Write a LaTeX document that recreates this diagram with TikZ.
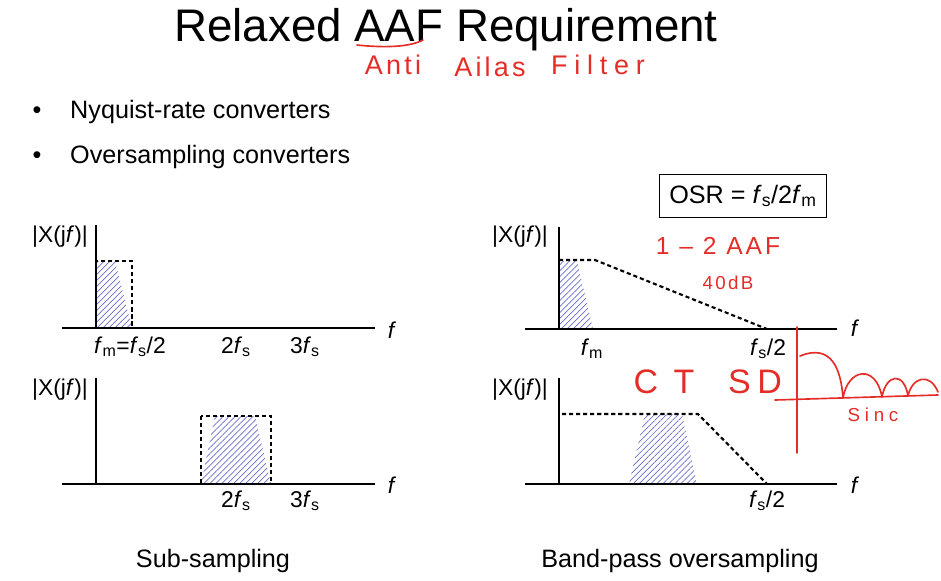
\documentclass[tikz,border=0pt]{standalone}
\usepackage{fontspec}
\setmainfont{Liberation Sans}
\newfontfamily\hand[LetterSpace=12]{Liberation Sans}
\usepackage{xcolor}
\usepackage{tikz}
\usetikzlibrary{patterns.meta}

\definecolor{hatchblue}{RGB}{105,110,205}
\definecolor{inkred}{RGB}{228,45,38}
\newcommand{\fsamp}{\textit{f}\textsubscript{s}}
\newcommand{\fmax}{\textit{f}\textsubscript{m}}

\begin{document}
\begin{tikzpicture}[
  x=0.03cm, y=-0.03cm,
  every node/.style={font=\fontsize{21.5}{24}\selectfont, inner sep=0pt},
  axis/.style    ={line width=1.6pt},
  filt/.style    ={line width=1.8pt, dash pattern=on 3.5pt off 2.5pt},
  band/.style    ={pattern={Lines[angle=45,distance=3.6pt,line width=0.6pt]},
                   pattern color=hatchblue},
  tick/.style    ={anchor=base, font=\fontsize{19.5}{22}\selectfont},
  mag/.style     ={font=\fontsize{19.5}{22}\selectfont},
  ink/.style     ={inkred, line width=1.4pt, line cap=round, line join=round},
  inktext/.style ={text=inkred, anchor=base, font=\hand\fontsize{20}{22}\selectfont},
]
  \useasboundingbox (0,0) rectangle (941,580);

  % title and notes
  \node[anchor=base, font=\fontsize{39}{42}\selectfont] (title) at (446,41) {Relaxed AAF Requirement};
  \draw[ink] (357,45) .. controls (385,48) and (410,47) .. (423,40);
  \node[inktext, font=\hand\fontsize{23}{26}\selectfont] (anti)   at (393,74) {Anti};
  \node[inktext, font=\hand\fontsize{23}{26}\selectfont] (ailas)  at (490,76) {Ailas};
  \node[inktext, font=\hand\addfontfeature{LetterSpace=25}\fontsize{23}{26}\selectfont] (filter) at (598,74) {Filter};

  \node[anchor=base]      (dot1) at (37,118) {•};
  \node[anchor=base west] (nyq)  at (70,118) {Nyquist-rate converters};
  \node[anchor=base]      (dot2) at (37,163) {•};
  \node[anchor=base west] (ovs)  at (70,163) {Oversampling converters};

  \node[draw, line width=1.1pt, minimum width=5.01cm, minimum height=1.29cm] (osr) at (743,196) {OSR = \fsamp/2\fmax};

  % Nyquist-rate
  \fill[band] (97,261) -- (115,261) -- (132,328) -- (97,328) -- cycle;
  \draw[filt] (96,261) rectangle (132,328);
  \draw[axis] (62,328) -- (375,328);
  \draw[axis] (96,225) -- (96,328);
  \node[mag]  (magA)   at (60,237)  {|X(j\textit{f})|};
  \node[tick] (fmA)    at (130,353) {\fmax=\fsamp/2};
  \node[tick] (twoA)   at (236,353) {2\fsamp};
  \node[tick] (threeA) at (305,353) {3\fsamp};
  \node[mag]  (fA)     at (392,330) {\textit{f}};

  % sub-sampling
  \fill[band] (215,416) -- (255,416) -- (271,484) -- (201,484) -- cycle;
  \draw[filt] (201,416) rectangle (271,484);
  \draw[axis] (62,484) -- (375,484);
  \draw[axis] (96,378) -- (96,484);
  \node[mag]  (magB)   at (60,390)  {|X(j\textit{f})|};
  \node[tick] (twoB)   at (236,507) {2\fsamp};
  \node[tick] (threeB) at (305,507) {3\fsamp};
  \node[mag]  (fB)     at (392,485) {\textit{f}};
  \node[anchor=base] (sub) at (213,567) {Sub-sampling};

  % oversampling
  \fill[band] (559,261) -- (577,261) -- (593,329) -- (559,329) -- cycle;
  \draw[filt] (559,260) -- (595,260) -- (767,329);
  \draw[axis] (525,329) -- (837,329);
  \draw[axis] (559,227) -- (559,329);
  \node[mag]  (magC) at (520,237) {|X(j\textit{f})|};
  \node[tick] (fmC)  at (592,355) {\fmax};
  \node[tick] (fsC)  at (768,355) {\fsamp/2};
  \node[mag]  (fC)   at (855,328) {\textit{f}};

  % band-pass oversampling
  \fill[band] (645,414) -- (682,414) -- (697,484) -- (629,484) -- cycle;
  \draw[filt] (562,414) -- (698,414) -- (767,484);
  \draw[axis] (525,484) -- (837,484);
  \draw[axis] (559,378) -- (559,484);
  \node[mag]  (magD) at (520,390) {|X(j\textit{f})|};
  \node[tick] (fsD)  at (767,507) {\fsamp/2};
  \node[mag]  (fD)   at (855,485) {\textit{f}};
  \node[anchor=base] (bpo) at (680,567) {Band-pass oversampling};

  % notes on the right
  \node[inktext, font=\hand\fontsize{21}{24}\selectfont] (aaf)  at (718,254) {1 – 2 AAF};
  \node[inktext, font=\hand\fontsize{16}{18}\selectfont] (db)   at (728,289) {40dB};
  \node[inktext, font=\hand\addfontfeature{LetterSpace=45}\fontsize{29}{32}\selectfont] (ct) at (664,393) {CT};
  \node[inktext, font=\hand\addfontfeature{LetterSpace=20}\fontsize{29}{32}\selectfont] (sd) at (755,393) {SD};
  \draw[ink] (797,327) -- (797,453);
  \draw[ink] (775,400) -- (938,395);
  \draw[ink] (800,356) .. controls (832,343) and (841,370) .. (843,398)
                       .. controls (848,368) and (876,364) .. (882,397)
                       .. controls (886,374) and (904,371) .. (908,396)
                       .. controls (912,377) and (930,372) .. (938,392);
  \node[inktext, font=\hand\addfontfeature{LetterSpace=25}\fontsize{16}{18}\selectfont] (sinc) at (873,421) {Sinc};
\end{tikzpicture}
\end{document}
